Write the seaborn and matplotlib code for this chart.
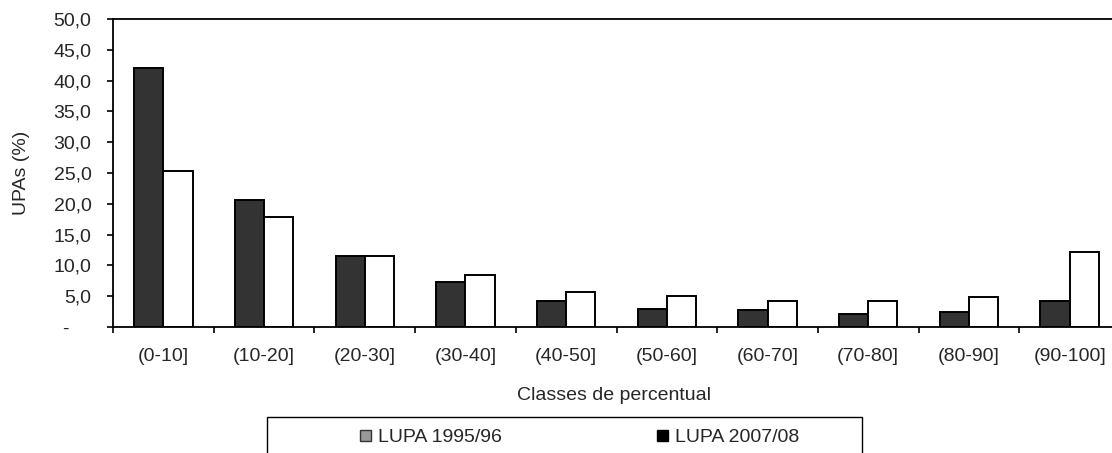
import numpy as np
import pandas as pd
import matplotlib
matplotlib.use("Agg")
import matplotlib.pyplot as plt
from matplotlib.patches import Patch, Rectangle
import seaborn as sns

# ---- data ----
classes = ['(0-10]', '(10-20]', '(20-30]', '(30-40]', '(40-50]',
           '(50-60]', '(60-70]', '(70-80]', '(80-90]', '(90-100]']
lupa_1995 = [42.1, 20.6, 11.5, 7.3, 4.2, 3.0, 2.8, 2.1, 2.5, 4.2]
lupa_2007 = [25.4, 17.8, 11.5, 8.4, 5.7, 5.1, 4.2, 4.2, 4.8, 12.1]
series_names = ['LUPA 1995/96', 'LUPA 2007/08']
y_ticks = [0, 5, 10, 15, 20, 25, 30, 35, 40, 45, 50]

df = pd.DataFrame({
    'classe': classes * 2,
    'valor': lupa_1995 + lupa_2007,
    'serie': [series_names[0]] * len(classes) + [series_names[1]] * len(classes),
})

sns.set_style('white')
plt.rcParams['font.family'] = ['Liberation Sans', 'DejaVu Sans']
FS = 14

W, H = 1112, 453
fig = plt.figure(figsize=(W / 100, H / 100), dpi=100)
ax_l, ax_r, ax_t, ax_b = 113, 1120, 19, 327
ax = fig.add_axes([ax_l / W, 1 - ax_b / H, (ax_r - ax_l) / W, (ax_b - ax_t) / H])

sns.barplot(data=df, x='classe', y='valor', hue='serie', order=classes,
            hue_order=series_names, palette=['#333333', '#ffffff'],
            edgecolor='black', linewidth=1.4, width=0.58, gap=0,
            legend=False, ax=ax)

ax.set_xlim(-0.5, len(classes) - 0.5)
ax.set_ylim(0, 50)
ax.set_xlabel('')
ax.set_ylabel('')

# y axis
ax.set_yticks(y_ticks)
ax.set_yticklabels([('-    ' if v == 0 else f'{v:.1f}'.replace('.', ',')) for v in y_ticks],
                   fontsize=FS)
ax.tick_params(axis='y', which='major', direction='out', length=4.5, width=1.2,
               color='black', pad=11, left=True)

# x axis: ticks at category boundaries, labels at centres
ax.set_xticks(np.arange(-0.5, len(classes), 1.0))
ax.set_xticklabels([])
ax.set_xticks(np.arange(len(classes)), minor=True)
ax.set_xticklabels(classes, minor=True, fontsize=FS)
ax.tick_params(axis='x', which='major', direction='out', length=4.5, width=1.2,
               color='black', bottom=True)
ax.tick_params(axis='x', which='minor', length=0, pad=15)

for s in ax.spines.values():
    s.set_visible(True)
    s.set_color('black')
    s.set_linewidth(1.3)

# axis titles
fig.text(22 / W, 1 - 173 / H, 'UPAs (%)', rotation=90, ha='center', va='center',
         fontsize=FS)
fig.text(614 / W, 1 - 395 / H, 'Classes de percentual', ha='center', va='center',
         fontsize=FS)

# legend box (cut by the bottom edge)
box = Rectangle((267 / W, -0.2), (862 - 267) / W, (1 - 417 / H) + 0.2,
                transform=fig.transFigure, fill=False, edgecolor='black',
                linewidth=1.0)
fig.patches.append(box)

handles = [Patch(facecolor='#999999', edgecolor='#333333', linewidth=1.0),
           Patch(facecolor='#000000', edgecolor='#000000', linewidth=1.0)]
fig.legend(handles, series_names, loc='center left',
           bbox_to_anchor=(360 / W, 1 - 438 / H), frameon=False, ncol=2,
           borderpad=0, borderaxespad=0, handlelength=0.55, handleheight=0.55,
           handletextpad=0.4, columnspacing=7.95, fontsize=FS)

fig.savefig('out.png', dpi=100)
